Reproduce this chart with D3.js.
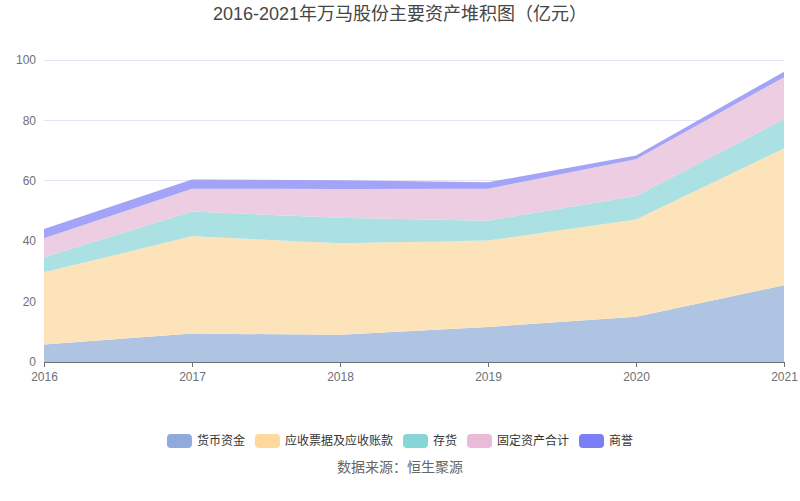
<!DOCTYPE html>
<html><head><meta charset="utf-8">
<script src="https://cdn.jsdelivr.net/npm/d3@7"></script>
<style>body{margin:0;background:#fff;font-family:"Noto Sans CJK SC","Noto Sans",sans-serif;}</style>
</head><body><svg id="c" width="800" height="501"></svg>
<script>
const years = ["2016","2017","2018","2019","2020","2021"];
const seriesNames = ["货币资金","应收票据及应收账款","存货","固定资产合计","商誉"];
const cash = [5.8, 9.4, 9.0, 11.6, 15.0, 25.4];
const receivables = [23.9, 32.2, 30.3, 28.6, 32.2, 45.3];
const inventory = [5.0, 8.2, 8.5, 6.6, 7.8, 9.7];
const fixedAssets = [6.3, 7.6, 9.5, 10.6, 12.1, 13.9];
const goodwill = [3.0, 3.0, 2.9, 2.1, 1.3, 1.8];
const yTicks = [0, 20, 40, 60, 80, 100];
const areaColors = ["#afc3e3","#fde3b9","#abe1e2","#edcde2","#a3a3f8"];
const legendColors = ["#8faadc","#ffd99b","#86d6d8","#e8bbda","#7b7ef5"];

const svg = d3.select("#c");
const W = 800, H = 501;
const m = {l:44, r:16, t:60, b:139};
const x = d3.scalePoint().domain(years).range([m.l, W - m.r]);
const y = d3.scaleLinear().domain([0, 100]).range([H - m.b, m.t]);

const table = years.map((yr, i) => ({year: yr, s0: cash[i], s1: receivables[i], s2: inventory[i], s3: fixedAssets[i], s4: goodwill[i]}));
const stack = d3.stack().keys(["s0","s1","s2","s3","s4"])(table);

// grid
svg.append("g").selectAll("line").data(yTicks.slice(1)).join("line")
  .attr("x1", m.l).attr("x2", W - m.r).attr("y1", d => y(d)).attr("y2", d => y(d))
  .attr("stroke", "#e0e6f1").attr("stroke-width", 1).attr("shape-rendering","crispEdges");

// areas
const area = d3.area().x(d => x(d.data.year)).y0(d => y(d[0])).y1(d => y(d[1]));
svg.append("g").selectAll("path").data(stack).join("path")
  .attr("d", area).attr("fill", (d, i) => areaColors[i]);

// y axis labels
svg.append("g").selectAll("text").data(yTicks).join("text")
  .attr("x", m.l - 8).attr("y", d => y(d)).attr("dy", "0.35em").attr("text-anchor", "end")
  .attr("fill", "#6e7079").attr("font-size", 12).attr("font-family", "Liberation Sans, Arial, sans-serif")
  .text(d => d);

// x axis
const xa = svg.append("g").attr("transform", `translate(0,${y(0)})`)
  .call(d3.axisBottom(x).tickSize(5).tickPadding(5));
xa.select(".domain").attr("stroke", "#6e7079");
xa.selectAll(".tick line").attr("stroke", "#6e7079");
xa.selectAll(".tick text").attr("fill", "#6e7079").attr("font-size", 12).attr("font-family", "Liberation Sans, Arial, sans-serif");

// title
svg.append("text").attr("x", W/2).attr("y", 20).attr("text-anchor", "middle")
  .attr("font-size", 18).attr("fill", "#464646").attr("font-family", "Liberation Sans, Noto Sans CJK SC, sans-serif")
  .text("2016-2021年万马股份主要资产堆积图（亿元）");

// legend
const lg = svg.append("g");
const items = [];
let cx = 0;
seriesNames.forEach((n, i) => {
  const g = lg.append("g");
  g.append("rect").attr("x", 0).attr("y", -7).attr("width", 25).attr("height", 14).attr("rx", 4).attr("fill", legendColors[i]);
  const t = g.append("text").attr("x", 30).attr("y", 0).attr("dy", "0.35em").attr("font-size", 12).attr("fill", "#333").text(n);
  const w = 30 + t.node().getComputedTextLength();
  items.push({g, x: cx});
  cx += w + 10;
});
const total = cx - 10;
const start = W/2 - total/2;
items.forEach(it => it.g.attr("transform", `translate(${start + it.x},441)`));

svg.append("text").attr("x", W/2).attr("y", 472).attr("text-anchor", "middle")
  .attr("font-size", 14).attr("fill", "#666").text("数据来源：恒生聚源");
</script></body></html>
